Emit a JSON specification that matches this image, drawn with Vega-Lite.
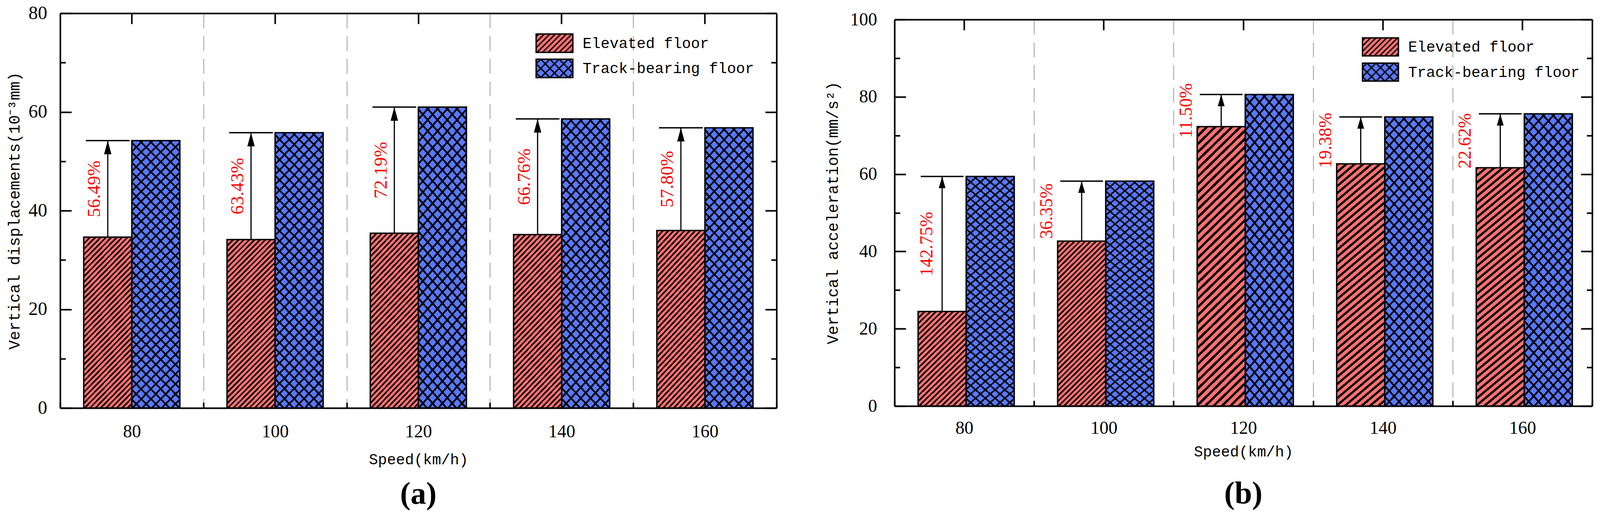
{
  "$schema": "https://vega.github.io/schema/vega-lite/v6.json",
  "description": "Vertical displacement (a) and vertical acceleration (b) of elevated floor vs track-bearing floor by train speed.",
  "background": "white",
  "padding": {"left": 17, "top": 10, "right": 18, "bottom": 19},
  "params": [
    {"name": "gR", "value": {"gradient": "linear", "x1": 0, "y1": 0, "x2": 0.3433, "y2": 1.1895, "stops": [
      {"offset":0,"color":"#000"},{"offset":0.01,"color":"#000"},{"offset":0.01,"color":"#0000"},{"offset":0.025,"color":"#0000"},
      {"offset":0.025,"color":"#000"},{"offset":0.035,"color":"#000"},{"offset":0.035,"color":"#0000"},{"offset":0.05,"color":"#0000"},
      {"offset":0.05,"color":"#000"},{"offset":0.06,"color":"#000"},{"offset":0.06,"color":"#0000"},{"offset":0.075,"color":"#0000"},
      {"offset":0.075,"color":"#000"},{"offset":0.085,"color":"#000"},{"offset":0.085,"color":"#0000"},{"offset":0.1,"color":"#0000"},
      {"offset":0.1,"color":"#000"},{"offset":0.11,"color":"#000"},{"offset":0.11,"color":"#0000"},{"offset":0.125,"color":"#0000"},
      {"offset":0.125,"color":"#000"},{"offset":0.135,"color":"#000"},{"offset":0.135,"color":"#0000"},{"offset":0.15,"color":"#0000"},
      {"offset":0.15,"color":"#000"},{"offset":0.16,"color":"#000"},{"offset":0.16,"color":"#0000"},{"offset":0.175,"color":"#0000"},
      {"offset":0.175,"color":"#000"},{"offset":0.185,"color":"#000"},{"offset":0.185,"color":"#0000"},{"offset":0.2,"color":"#0000"},
      {"offset":0.2,"color":"#000"},{"offset":0.21,"color":"#000"},{"offset":0.21,"color":"#0000"},{"offset":0.225,"color":"#0000"},
      {"offset":0.225,"color":"#000"},{"offset":0.235,"color":"#000"},{"offset":0.235,"color":"#0000"},{"offset":0.25,"color":"#0000"},
      {"offset":0.25,"color":"#000"},{"offset":0.26,"color":"#000"},{"offset":0.26,"color":"#0000"},{"offset":0.275,"color":"#0000"},
      {"offset":0.275,"color":"#000"},{"offset":0.285,"color":"#000"},{"offset":0.285,"color":"#0000"},{"offset":0.3,"color":"#0000"},
      {"offset":0.3,"color":"#000"},{"offset":0.31,"color":"#000"},{"offset":0.31,"color":"#0000"},{"offset":0.325,"color":"#0000"},
      {"offset":0.325,"color":"#000"},{"offset":0.335,"color":"#000"},{"offset":0.335,"color":"#0000"},{"offset":0.35,"color":"#0000"},
      {"offset":0.35,"color":"#000"},{"offset":0.36,"color":"#000"},{"offset":0.36,"color":"#0000"},{"offset":0.375,"color":"#0000"},
      {"offset":0.375,"color":"#000"},{"offset":0.385,"color":"#000"},{"offset":0.385,"color":"#0000"},{"offset":0.4,"color":"#0000"},
      {"offset":0.4,"color":"#000"},{"offset":0.41,"color":"#000"},{"offset":0.41,"color":"#0000"},{"offset":0.425,"color":"#0000"},
      {"offset":0.425,"color":"#000"},{"offset":0.435,"color":"#000"},{"offset":0.435,"color":"#0000"},{"offset":0.45,"color":"#0000"},
      {"offset":0.45,"color":"#000"},{"offset":0.46,"color":"#000"},{"offset":0.46,"color":"#0000"},{"offset":0.475,"color":"#0000"},
      {"offset":0.475,"color":"#000"},{"offset":0.485,"color":"#000"},{"offset":0.485,"color":"#0000"},{"offset":0.5,"color":"#0000"},
      {"offset":0.5,"color":"#000"},{"offset":0.51,"color":"#000"},{"offset":0.51,"color":"#0000"},{"offset":0.525,"color":"#0000"},
      {"offset":0.525,"color":"#000"},{"offset":0.535,"color":"#000"},{"offset":0.535,"color":"#0000"},{"offset":0.55,"color":"#0000"},
      {"offset":0.55,"color":"#000"},{"offset":0.56,"color":"#000"},{"offset":0.56,"color":"#0000"},{"offset":0.575,"color":"#0000"},
      {"offset":0.575,"color":"#000"},{"offset":0.585,"color":"#000"},{"offset":0.585,"color":"#0000"},{"offset":0.6,"color":"#0000"},
      {"offset":0.6,"color":"#000"},{"offset":0.61,"color":"#000"},{"offset":0.61,"color":"#0000"},{"offset":0.625,"color":"#0000"},
      {"offset":0.625,"color":"#000"},{"offset":0.635,"color":"#000"},{"offset":0.635,"color":"#0000"},{"offset":0.65,"color":"#0000"},
      {"offset":0.65,"color":"#000"},{"offset":0.66,"color":"#000"},{"offset":0.66,"color":"#0000"},{"offset":0.675,"color":"#0000"},
      {"offset":0.675,"color":"#000"},{"offset":0.685,"color":"#000"},{"offset":0.685,"color":"#0000"},{"offset":0.7,"color":"#0000"},
      {"offset":0.7,"color":"#000"},{"offset":0.71,"color":"#000"},{"offset":0.71,"color":"#0000"},{"offset":0.725,"color":"#0000"},
      {"offset":0.725,"color":"#000"},{"offset":0.735,"color":"#000"},{"offset":0.735,"color":"#0000"},{"offset":0.75,"color":"#0000"},
      {"offset":0.75,"color":"#000"},{"offset":0.76,"color":"#000"},{"offset":0.76,"color":"#0000"},{"offset":0.775,"color":"#0000"},
      {"offset":0.775,"color":"#000"},{"offset":0.785,"color":"#000"},{"offset":0.785,"color":"#0000"},{"offset":0.8,"color":"#0000"},
      {"offset":0.8,"color":"#000"},{"offset":0.81,"color":"#000"},{"offset":0.81,"color":"#0000"},{"offset":0.825,"color":"#0000"},
      {"offset":0.825,"color":"#000"},{"offset":0.835,"color":"#000"},{"offset":0.835,"color":"#0000"},{"offset":0.85,"color":"#0000"},
      {"offset":0.85,"color":"#000"},{"offset":0.86,"color":"#000"},{"offset":0.86,"color":"#0000"},{"offset":0.875,"color":"#0000"},
      {"offset":0.875,"color":"#000"},{"offset":0.885,"color":"#000"},{"offset":0.885,"color":"#0000"},{"offset":0.9,"color":"#0000"},
      {"offset":0.9,"color":"#000"},{"offset":0.91,"color":"#000"},{"offset":0.91,"color":"#0000"},{"offset":0.925,"color":"#0000"},
      {"offset":0.925,"color":"#000"},{"offset":0.935,"color":"#000"},{"offset":0.935,"color":"#0000"},{"offset":0.95,"color":"#0000"},
      {"offset":0.95,"color":"#000"},{"offset":0.96,"color":"#000"},{"offset":0.96,"color":"#0000"},{"offset":0.975,"color":"#0000"},
      {"offset":0.975,"color":"#000"},{"offset":0.985,"color":"#000"},{"offset":0.985,"color":"#0000"},{"offset":1,"color":"#0000"}
    ]}},
    {"name": "gRs", "expr": "merge(gR, {x2: 0.9329, y2: 1.8813})"},
    {"name": "gRt", "expr": "merge(gR, {x2: 0.1906, y2: 1.1358})"},
    {"name": "gB1", "value": {"gradient": "linear", "x1": 0, "y1": 0, "x2": 0.2075, "y2": 1.1438, "stops": [
      {"offset":0,"color":"#000"},{"offset":0.0075,"color":"#000"},{"offset":0.0075,"color":"#0000"},{"offset":0.03125,"color":"#0000"},
      {"offset":0.03125,"color":"#000"},{"offset":0.03875,"color":"#000"},{"offset":0.03875,"color":"#0000"},{"offset":0.0625,"color":"#0000"},
      {"offset":0.0625,"color":"#000"},{"offset":0.07,"color":"#000"},{"offset":0.07,"color":"#0000"},{"offset":0.09375,"color":"#0000"},
      {"offset":0.09375,"color":"#000"},{"offset":0.10125,"color":"#000"},{"offset":0.10125,"color":"#0000"},{"offset":0.125,"color":"#0000"},
      {"offset":0.125,"color":"#000"},{"offset":0.1325,"color":"#000"},{"offset":0.1325,"color":"#0000"},{"offset":0.15625,"color":"#0000"},
      {"offset":0.15625,"color":"#000"},{"offset":0.16375,"color":"#000"},{"offset":0.16375,"color":"#0000"},{"offset":0.1875,"color":"#0000"},
      {"offset":0.1875,"color":"#000"},{"offset":0.195,"color":"#000"},{"offset":0.195,"color":"#0000"},{"offset":0.21875,"color":"#0000"},
      {"offset":0.21875,"color":"#000"},{"offset":0.22625,"color":"#000"},{"offset":0.22625,"color":"#0000"},{"offset":0.25,"color":"#0000"},
      {"offset":0.25,"color":"#000"},{"offset":0.2575,"color":"#000"},{"offset":0.2575,"color":"#0000"},{"offset":0.28125,"color":"#0000"},
      {"offset":0.28125,"color":"#000"},{"offset":0.28875,"color":"#000"},{"offset":0.28875,"color":"#0000"},{"offset":0.3125,"color":"#0000"},
      {"offset":0.3125,"color":"#000"},{"offset":0.32,"color":"#000"},{"offset":0.32,"color":"#0000"},{"offset":0.34375,"color":"#0000"},
      {"offset":0.34375,"color":"#000"},{"offset":0.35125,"color":"#000"},{"offset":0.35125,"color":"#0000"},{"offset":0.375,"color":"#0000"},
      {"offset":0.375,"color":"#000"},{"offset":0.3825,"color":"#000"},{"offset":0.3825,"color":"#0000"},{"offset":0.40625,"color":"#0000"},
      {"offset":0.40625,"color":"#000"},{"offset":0.41375,"color":"#000"},{"offset":0.41375,"color":"#0000"},{"offset":0.4375,"color":"#0000"},
      {"offset":0.4375,"color":"#000"},{"offset":0.445,"color":"#000"},{"offset":0.445,"color":"#0000"},{"offset":0.46875,"color":"#0000"},
      {"offset":0.46875,"color":"#000"},{"offset":0.47625,"color":"#000"},{"offset":0.47625,"color":"#0000"},{"offset":0.5,"color":"#0000"},
      {"offset":0.5,"color":"#000"},{"offset":0.5075,"color":"#000"},{"offset":0.5075,"color":"#0000"},{"offset":0.53125,"color":"#0000"},
      {"offset":0.53125,"color":"#000"},{"offset":0.53875,"color":"#000"},{"offset":0.53875,"color":"#0000"},{"offset":0.5625,"color":"#0000"},
      {"offset":0.5625,"color":"#000"},{"offset":0.57,"color":"#000"},{"offset":0.57,"color":"#0000"},{"offset":0.59375,"color":"#0000"},
      {"offset":0.59375,"color":"#000"},{"offset":0.60125,"color":"#000"},{"offset":0.60125,"color":"#0000"},{"offset":0.625,"color":"#0000"},
      {"offset":0.625,"color":"#000"},{"offset":0.6325,"color":"#000"},{"offset":0.6325,"color":"#0000"},{"offset":0.65625,"color":"#0000"},
      {"offset":0.65625,"color":"#000"},{"offset":0.66375,"color":"#000"},{"offset":0.66375,"color":"#0000"},{"offset":0.6875,"color":"#0000"},
      {"offset":0.6875,"color":"#000"},{"offset":0.695,"color":"#000"},{"offset":0.695,"color":"#0000"},{"offset":0.71875,"color":"#0000"},
      {"offset":0.71875,"color":"#000"},{"offset":0.72625,"color":"#000"},{"offset":0.72625,"color":"#0000"},{"offset":0.75,"color":"#0000"},
      {"offset":0.75,"color":"#000"},{"offset":0.7575,"color":"#000"},{"offset":0.7575,"color":"#0000"},{"offset":0.78125,"color":"#0000"},
      {"offset":0.78125,"color":"#000"},{"offset":0.78875,"color":"#000"},{"offset":0.78875,"color":"#0000"},{"offset":0.8125,"color":"#0000"},
      {"offset":0.8125,"color":"#000"},{"offset":0.82,"color":"#000"},{"offset":0.82,"color":"#0000"},{"offset":0.84375,"color":"#0000"},
      {"offset":0.84375,"color":"#000"},{"offset":0.85125,"color":"#000"},{"offset":0.85125,"color":"#0000"},{"offset":0.875,"color":"#0000"},
      {"offset":0.875,"color":"#000"},{"offset":0.8825,"color":"#000"},{"offset":0.8825,"color":"#0000"},{"offset":0.90625,"color":"#0000"},
      {"offset":0.90625,"color":"#000"},{"offset":0.91375,"color":"#000"},{"offset":0.91375,"color":"#0000"},{"offset":0.9375,"color":"#0000"},
      {"offset":0.9375,"color":"#000"},{"offset":0.945,"color":"#000"},{"offset":0.945,"color":"#0000"},{"offset":0.96875,"color":"#0000"},
      {"offset":0.96875,"color":"#000"},{"offset":0.97625,"color":"#000"},{"offset":0.97625,"color":"#0000"},{"offset":1,"color":"#0000"}
    ]}},
    {"name": "gB2", "expr": "merge(gB1, {x1: 1, x2: 0.7925})"}
  ],
  "datasets": {
    "a": [
      {"speed": 80, "Elevated floor": 34.63, "Track-bearing floor": 54.2, "pct": "56.49%"},
      {"speed": 100, "Elevated floor": 34.14, "Track-bearing floor": 55.8, "pct": "63.43%"},
      {"speed": 120, "Elevated floor": 35.43, "Track-bearing floor": 61.0, "pct": "72.19%"},
      {"speed": 140, "Elevated floor": 35.14, "Track-bearing floor": 58.6, "pct": "66.76%"},
      {"speed": 160, "Elevated floor": 35.99, "Track-bearing floor": 56.8, "pct": "57.80%"}
    ],
    "b": [
      {"speed": 80, "Elevated floor": 24.47, "Track-bearing floor": 59.4, "pct": "142.75%"},
      {"speed": 100, "Elevated floor": 42.68, "Track-bearing floor": 58.2, "pct": "36.35%"},
      {"speed": 120, "Elevated floor": 72.29, "Track-bearing floor": 80.6, "pct": "11.50%"},
      {"speed": 140, "Elevated floor": 62.66, "Track-bearing floor": 74.8, "pct": "19.38%"},
      {"speed": 160, "Elevated floor": 61.65, "Track-bearing floor": 75.6, "pct": "22.62%"}
    ]
  },
  "spacing": 122,
  "resolve": {"scale": {"color": "independent"}, "legend": {"color": "independent"}},
  "hconcat": [
    {
      "width": 1834,
      "height": 1010,
      "data": {"name": "a"},
      "title": {"text": "(a)", "orient": "bottom", "font": "Liberation Serif", "fontSize": 80, "fontWeight": "bold", "color": "black", "offset": 31},
      "resolve": {"axis": {"x": "independent", "y": "independent"}},
      "layer": [
        {
          "transform": [{"fold": ["Elevated floor", "Track-bearing floor"], "as": ["series", "value"]}],
          "mark": {"type": "bar", "strokeWidth": 0},
          "encoding": {
            "x": {"field": "speed", "type": "ordinal", "scale": {"paddingInner": 0, "paddingOuter": 0},
              "axis": {"orient": "bottom", "title": "Speed(km/h)", "labelAngle": 0, "tickBand": "extent", "tickSize": -14, "labelFontSize": 46, "labelPadding": 52, "titleFontSize": 38.5, "titlePadding": 30, "grid": true, "gridDash": [38, 20], "gridColor": "#BBBBBB", "gridWidth": 3}},
            "xOffset": {"field": "series", "type": "nominal", "scale": {"paddingInner": 0, "paddingOuter": 0.49}},
            "y": {"field": "value", "type": "quantitative", "scale": {"domain": [0, 80], "nice": false},
              "axis": {"orient": "left", "title": "Vertical displacements(10⁻³mm)", "values": [0, 10, 20, 30, 40, 50, 60, 70, 80],
                "tickSize": {"condition": {"test": "datum.value % 20 === 0", "value": -29}, "value": -14},
                "labelExpr": "datum.value % 20 === 0 ? datum.label : ''", "labelFontSize": 48, "labelPadding": 62.6, "titleFontSize": 40, "titlePadding": 14.7}},
            "color": {"field": "series", "type": "nominal",
              "scale": {"domain": ["Elevated floor", "Track-bearing floor"], "range": ["#FF7070", "#5878FF"]},
              "legend": {"orient": "none", "legendX": 1240, "legendY": 51, "title": null, "padding": 0, "symbolType": "M-2,-1H2V1H-2Z", "symbolSize": 2209, "symbolStrokeColor": "black", "symbolStrokeWidth": 3.5, "symbolOpacity": 1, "labelFont": "Liberation Mono", "labelFontSize": 38.5, "labelColor": "black", "labelOffset": 46.5, "labelLimit": 0, "rowPadding": 3.5,
                "encode": {"symbols": {"update": {"shape": {"signal": "datum.value === 'Elevated floor' ? 'M-2,-1H2V1H-2Z M-2,-0.7L-1.7,-1 M-2,-0.1L-1.1,-1 M-2,0.5L-0.5,-1 M-1.9,1L0.1,-1 M-1.3,1L0.7,-1 M-0.7,1L1.3,-1 M-0.1,1L1.9,-1 M0.5,1L2,-0.5 M1.1,1L2,0.1 M1.7,1L2,0.7' : 'M-2,-1H2V1H-2Z M-2,-0.5L-1.5,-1 M-2,0.5L-0.5,-1 M-1.5,1L0.5,-1 M-0.5,1L1.5,-1 M0.5,1L2,-0.5 M1.5,1L2,0.5 M1.5,-1L2,-0.5 M0.5,-1L2,0.5 M-0.5,-1L1.5,1 M-1.5,-1L0.5,1 M-2,-0.5L-0.5,1 M-2,0.5L-1.5,1'"}}}}}}
          }
        },
        {
          "transform": [{"fold": ["Elevated floor", "Track-bearing floor"], "as": ["series", "value"]}, {"filter": "datum.series === 'Elevated floor'"}],
          "mark": {"type": "bar", "fill": {"expr": "gR"}, "strokeWidth": 0},
          "encoding": {
            "x": {"field": "speed", "type": "ordinal", "axis": null},
            "xOffset": {"field": "series", "type": "nominal"},
            "y": {"field": "value", "type": "quantitative", "axis": null}
          }
        },
        {
          "transform": [{"fold": ["Elevated floor", "Track-bearing floor"], "as": ["series", "value"]}, {"filter": "datum.series === 'Track-bearing floor'"}],
          "mark": {"type": "bar", "fill": {"expr": "gB1"}, "strokeWidth": 0},
          "encoding": {
            "x": {"field": "speed", "type": "ordinal", "axis": null},
            "xOffset": {"field": "series", "type": "nominal"},
            "y": {"field": "value", "type": "quantitative", "axis": null}
          }
        },
        {
          "transform": [{"fold": ["Elevated floor", "Track-bearing floor"], "as": ["series", "value"]}, {"filter": "datum.series === 'Track-bearing floor'"}],
          "mark": {"type": "bar", "fill": {"expr": "gB2"}, "strokeWidth": 0},
          "encoding": {
            "x": {"field": "speed", "type": "ordinal", "axis": null},
            "xOffset": {"field": "series", "type": "nominal"},
            "y": {"field": "value", "type": "quantitative", "axis": null}
          }
        },
        {
          "transform": [{"fold": ["Elevated floor", "Track-bearing floor"], "as": ["series", "value"]}],
          "mark": {"type": "bar", "fillOpacity": 0, "stroke": "black", "strokeWidth": 3.5},
          "encoding": {
            "x": {"field": "speed", "type": "ordinal", "axis": {"orient": "top", "labels": false, "title": null, "tickSize": -27}},
            "xOffset": {"field": "series", "type": "nominal"},
            "y": {"field": "value", "type": "quantitative",
              "axis": {"orient": "right", "labels": false, "title": null, "values": [0, 10, 20, 30, 40, 50, 60, 70, 80],
                "tickSize": {"condition": {"test": "datum.value % 20 === 0", "value": -29}, "value": -14}}}
          }
        },
        {
          "transform": [{"fold": ["Elevated floor", "Track-bearing floor"], "as": ["series", "value"]}, {"filter": "datum.series === 'Elevated floor'"}],
          "mark": {"type": "tick", "size": 112, "thickness": 3.5, "color": "black", "opacity": 1},
          "encoding": {
            "x": {"field": "speed", "type": "ordinal", "axis": null},
            "xOffset": {"field": "series", "type": "nominal"},
            "y": {"field": "Track-bearing floor", "type": "quantitative", "axis": null}
          }
        },
        {
          "transform": [{"fold": ["Elevated floor", "Track-bearing floor"], "as": ["series", "value"]}, {"filter": "datum.series === 'Elevated floor'"}],
          "mark": {"type": "rule", "strokeWidth": 3, "color": "black"},
          "encoding": {
            "x": {"field": "speed", "type": "ordinal", "axis": null},
            "xOffset": {"field": "series", "type": "nominal"},
            "y": {"field": "Elevated floor", "type": "quantitative", "axis": null},
            "y2": {"field": "Track-bearing floor"}
          }
        },
        {
          "transform": [{"fold": ["Elevated floor", "Track-bearing floor"], "as": ["series", "value"]}, {"filter": "datum.series === 'Elevated floor'"}],
          "mark": {"type": "point", "shape": "M0,0L-0.27,1L0.27,1Z", "size": 4900, "filled": true, "color": "black", "opacity": 1, "strokeWidth": 0},
          "encoding": {
            "x": {"field": "speed", "type": "ordinal", "axis": null},
            "xOffset": {"field": "series", "type": "nominal"},
            "y": {"field": "Track-bearing floor", "type": "quantitative", "axis": null}
          }
        },
        {
          "transform": [
            {"fold": ["Elevated floor", "Track-bearing floor"], "as": ["series", "value"]},
            {"joinaggregate": [{"op": "mean", "field": "value", "as": "mid"}], "groupby": ["speed"]},
            {"filter": "datum.series === 'Elevated floor'"}
          ],
          "mark": {"type": "text", "angle": 270, "dy": -33.6, "font": "Liberation Serif", "fontSize": 47, "color": "#FF0000", "align": "center", "baseline": "middle"},
          "encoding": {
            "x": {"field": "speed", "type": "ordinal", "axis": null},
            "xOffset": {"field": "series", "type": "nominal"},
            "y": {"field": "mid", "type": "quantitative", "axis": null},
            "text": {"field": "pct"}
          }
        }
      ]
    },
    {
      "spacing": 0,
      "bounds": "flush",
      "vconcat": [
        {
          "width": 1786,
          "height": 16,
          "data": {"values": []},
          "mark": "rect"
        },
        {
          "width": 1786,
          "height": 989,
          "data": {"name": "b"},
          "title": {"text": "(b)", "orient": "bottom", "font": "Liberation Serif", "fontSize": 80, "fontWeight": "bold", "color": "black", "offset": 50},
          "resolve": {"axis": {"x": "independent", "y": "independent"}},
          "layer": [
            {
              "transform": [{"fold": ["Elevated floor", "Track-bearing floor"], "as": ["series", "value"]}],
              "mark": {"type": "bar", "strokeWidth": 0},
              "encoding": {
                "x": {"field": "speed", "type": "ordinal", "scale": {"paddingInner": 0, "paddingOuter": 0},
                  "axis": {"orient": "bottom", "title": "Speed(km/h)", "labelAngle": 0, "tickBand": "extent", "tickSize": -14, "labelFontSize": 46, "labelPadding": 48, "titleFontSize": 38.5, "titlePadding": 19, "grid": true, "gridDash": [38, 20], "gridColor": "#BBBBBB", "gridWidth": 3}},
                "xOffset": {"field": "series", "type": "nominal", "scale": {"paddingInner": 0, "paddingOuter": 0.49}},
                "y": {"field": "value", "type": "quantitative", "scale": {"domain": [0, 100], "nice": false},
                  "axis": {"orient": "left", "title": "Vertical acceleration(mm/s²)", "values": [0, 10, 20, 30, 40, 50, 60, 70, 80, 90, 100],
                    "tickSize": {"condition": {"test": "datum.value % 20 === 0", "value": -29}, "value": -14},
                    "labelExpr": "datum.value % 20 === 0 ? datum.label : ''", "labelFontSize": 46, "labelPadding": 74, "titleFontSize": 40, "titlePadding": 23.6}},
                "color": {"field": "series", "type": "nominal",
                  "scale": {"domain": ["Elevated floor", "Track-bearing floor"], "range": ["#FF7070", "#5878FF"]},
                  "legend": {"orient": "none", "legendX": 1219, "legendY": 61, "title": null, "padding": 0, "symbolType": "M-2,-1H2V1H-2Z", "symbolSize": 2116, "symbolStrokeColor": "black", "symbolStrokeWidth": 3.5, "symbolOpacity": 1, "labelFont": "Liberation Mono", "labelFontSize": 38.5, "labelColor": "black", "labelOffset": 46, "labelLimit": 0, "rowPadding": 4.5,
                    "encode": {"symbols": {"update": {"shape": {"signal": "datum.value === 'Elevated floor' ? 'M-2,-1H2V1H-2Z M-2,-0.7L-1.7,-1 M-2,-0.1L-1.1,-1 M-2,0.5L-0.5,-1 M-1.9,1L0.1,-1 M-1.3,1L0.7,-1 M-0.7,1L1.3,-1 M-0.1,1L1.9,-1 M0.5,1L2,-0.5 M1.1,1L2,0.1 M1.7,1L2,0.7' : 'M-2,-1H2V1H-2Z M-2,-0.5L-1.5,-1 M-2,0.5L-0.5,-1 M-1.5,1L0.5,-1 M-0.5,1L1.5,-1 M0.5,1L2,-0.5 M1.5,1L2,0.5 M1.5,-1L2,-0.5 M0.5,-1L2,0.5 M-0.5,-1L1.5,1 M-1.5,-1L0.5,1 M-2,-0.5L-0.5,1 M-2,0.5L-1.5,1'"}}}}}}
              }
            },
            {
              "transform": [{"fold": ["Elevated floor", "Track-bearing floor"], "as": ["series", "value"]}, {"filter": "datum.series === 'Elevated floor' && datum.speed === 80"}],
              "mark": {"type": "bar", "fill": {"expr": "gRs"}, "strokeWidth": 0},
              "encoding": {
                "x": {"field": "speed", "type": "ordinal", "axis": null},
                "xOffset": {"field": "series", "type": "nominal"},
                "y": {"field": "value", "type": "quantitative", "axis": null}
              }
            },
            {
              "transform": [{"fold": ["Elevated floor", "Track-bearing floor"], "as": ["series", "value"]}, {"filter": "datum.series === 'Elevated floor' && datum.speed === 100"}],
              "mark": {"type": "bar", "fill": {"expr": "gR"}, "strokeWidth": 0},
              "encoding": {
                "x": {"field": "speed", "type": "ordinal", "axis": null},
                "xOffset": {"field": "series", "type": "nominal"},
                "y": {"field": "value", "type": "quantitative", "axis": null}
              }
            },
            {
              "transform": [{"fold": ["Elevated floor", "Track-bearing floor"], "as": ["series", "value"]}, {"filter": "datum.series === 'Elevated floor' && datum.speed >= 120"}],
              "mark": {"type": "bar", "fill": {"expr": "gRt"}, "strokeWidth": 0},
              "encoding": {
                "x": {"field": "speed", "type": "ordinal", "axis": null},
                "xOffset": {"field": "series", "type": "nominal"},
                "y": {"field": "value", "type": "quantitative", "axis": null}
              }
            },
            {
              "transform": [{"fold": ["Elevated floor", "Track-bearing floor"], "as": ["series", "value"]}, {"filter": "datum.series === 'Track-bearing floor'"}],
              "mark": {"type": "bar", "fill": {"expr": "gB1"}, "strokeWidth": 0},
              "encoding": {
                "x": {"field": "speed", "type": "ordinal", "axis": null},
                "xOffset": {"field": "series", "type": "nominal"},
                "y": {"field": "value", "type": "quantitative", "axis": null}
              }
            },
            {
              "transform": [{"fold": ["Elevated floor", "Track-bearing floor"], "as": ["series", "value"]}, {"filter": "datum.series === 'Track-bearing floor'"}],
              "mark": {"type": "bar", "fill": {"expr": "gB2"}, "strokeWidth": 0},
              "encoding": {
                "x": {"field": "speed", "type": "ordinal", "axis": null},
                "xOffset": {"field": "series", "type": "nominal"},
                "y": {"field": "value", "type": "quantitative", "axis": null}
              }
            },
            {
              "transform": [{"fold": ["Elevated floor", "Track-bearing floor"], "as": ["series", "value"]}],
              "mark": {"type": "bar", "fillOpacity": 0, "stroke": "black", "strokeWidth": 3.5},
              "encoding": {
                "x": {"field": "speed", "type": "ordinal", "axis": {"orient": "top", "labels": false, "title": null, "tickSize": -27}},
                "xOffset": {"field": "series", "type": "nominal"},
                "y": {"field": "value", "type": "quantitative",
                  "axis": {"orient": "right", "labels": false, "title": null, "values": [0, 10, 20, 30, 40, 50, 60, 70, 80, 90, 100],
                    "tickSize": {"condition": {"test": "datum.value % 20 === 0", "value": -29}, "value": -14}}}
              }
            },
            {
              "transform": [{"fold": ["Elevated floor", "Track-bearing floor"], "as": ["series", "value"]}, {"filter": "datum.series === 'Elevated floor'"}],
              "mark": {"type": "tick", "size": 109.5, "thickness": 3.5, "color": "black", "opacity": 1},
              "encoding": {
                "x": {"field": "speed", "type": "ordinal", "axis": null},
                "xOffset": {"field": "series", "type": "nominal"},
                "y": {"field": "Track-bearing floor", "type": "quantitative", "axis": null}
              }
            },
            {
              "transform": [{"fold": ["Elevated floor", "Track-bearing floor"], "as": ["series", "value"]}, {"filter": "datum.series === 'Elevated floor'"}],
              "mark": {"type": "rule", "strokeWidth": 3, "color": "black"},
              "encoding": {
                "x": {"field": "speed", "type": "ordinal", "axis": null},
                "xOffset": {"field": "series", "type": "nominal"},
                "y": {"field": "Elevated floor", "type": "quantitative", "axis": null},
                "y2": {"field": "Track-bearing floor"}
              }
            },
            {
              "transform": [{"fold": ["Elevated floor", "Track-bearing floor"], "as": ["series", "value"]}, {"filter": "datum.series === 'Elevated floor'"}],
              "mark": {"type": "point", "shape": "M0,0L-0.29,1L0.29,1Z", "size": 3600, "filled": true, "color": "black", "opacity": 1, "strokeWidth": 0},
              "encoding": {
                "x": {"field": "speed", "type": "ordinal", "axis": null},
                "xOffset": {"field": "series", "type": "nominal"},
                "y": {"field": "Track-bearing floor", "type": "quantitative", "axis": null}
              }
            },
            {
              "transform": [
                {"fold": ["Elevated floor", "Track-bearing floor"], "as": ["series", "value"]},
                {"joinaggregate": [{"op": "mean", "field": "value", "as": "mid"}], "groupby": ["speed"]},
                {"filter": "datum.series === 'Elevated floor' && datum.speed === 80"}
              ],
              "mark": {"type": "text", "angle": 270, "dy": -38.4, "font": "Liberation Serif", "fontSize": 46, "color": "#FF0000", "align": "center", "baseline": "middle"},
              "encoding": {
                "x": {"field": "speed", "type": "ordinal", "axis": null},
                "xOffset": {"field": "series", "type": "nominal"},
                "y": {"field": "mid", "type": "quantitative", "axis": null},
                "text": {"field": "pct"}
              }
            },
            {
              "transform": [
                {"fold": ["Elevated floor", "Track-bearing floor"], "as": ["series", "value"]},
                {"joinaggregate": [{"op": "mean", "field": "value", "as": "mid"}], "groupby": ["speed"]},
                {"filter": "datum.series === 'Elevated floor' && datum.speed !== 80"}
              ],
              "mark": {"type": "text", "angle": 270, "dy": -89.3, "font": "Liberation Serif", "fontSize": 46, "color": "#FF0000", "align": "center", "baseline": "middle"},
              "encoding": {
                "x": {"field": "speed", "type": "ordinal", "axis": null},
                "xOffset": {"field": "series", "type": "nominal"},
                "y": {"field": "mid", "type": "quantitative", "axis": null},
                "text": {"field": "pct"}
              }
            }
          ]
        }
      ]
    }
  ],
  "config": {
    "view": {"stroke": null},
    "axis": {"domainColor": "black", "domainWidth": 4, "tickColor": "black", "tickWidth": 4, "labelColor": "black", "titleColor": "black", "labelFont": "Liberation Serif", "titleFont": "Liberation Mono", "titleFontWeight": "normal", "grid": false, "zindex": 1, "labelLimit": 0}
  }
}
